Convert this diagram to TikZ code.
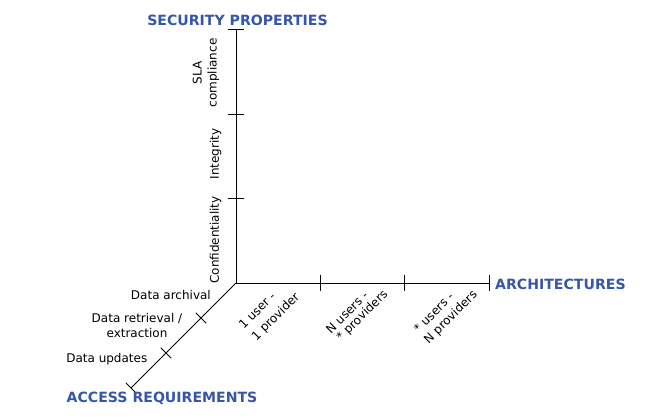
\documentclass[tikz,border=0pt]{standalone}
\usepackage{fontspec}
\setmainfont{DejaVu Sans}
\definecolor{titleblue}{RGB}{54,86,170}
\begin{document}
\begin{tikzpicture}[x=1pt,y=-1pt,
  axis/.style={line width=0.85pt,black},
  tickmark/.style={line width=0.85pt,black},
  lbl/.style={font=\fontsize{12}{15}\selectfont,inner sep=0pt,align=center},
  ttl/.style={font=\fontsize{14.1}{17}\selectfont\bfseries,text=titleblue,inner sep=0pt}]
\useasboundingbox (0,0) rectangle (657,419);
% axes
\coordinate (O) at (236,283);
\coordinate (Ytop) at (236,29);
\coordinate (Xend) at (489,283);
\coordinate (Zend) at (131,388);
\coordinate (Y1) at (236,198);
\coordinate (Y2) at (236,114);
\coordinate (X1) at (320,283);
\coordinate (X2) at (404,283);
\coordinate (Z1) at (201,318);
\coordinate (Z2) at (166,353);
\draw[axis] (Ytop) -- (O) -- (Xend);
\draw[axis] (O) -- (Zend);
% ticks
\foreach \c in {Y1,Y2,Ytop} \draw[tickmark] ([xshift=-8pt]\c) -- ([xshift=8pt]\c);
\foreach \c in {X1,X2,Xend} \draw[tickmark] ([yshift=-8pt]\c) -- ([yshift=8pt]\c);
\foreach \c in {Z1,Z2,Zend} \draw[tickmark] ([shift={(-5.2,-5.2)}]\c) -- ([shift={(5.2,5.2)}]\c);
% titles
\node[ttl] (tsec) at (237.5,20.5) {SECURITY PROPERTIES};
\node[ttl,anchor=west] (tarch) at (495,284.5) {ARCHITECTURES};
\node[ttl,anchor=west] (tacc) at (66.5,398.5) {ACCESS REQUIREMENTS};
% security labels
\node[lbl,rotate=90] (conf) at (215.5,240) {Confidentiality};
\node[lbl,rotate=90] (integ) at (215.5,154) {Integrity};
\node[lbl,rotate=90] (sla) at (206,73) {SLA\\compliance};
% access labels
\node[lbl,anchor=east] (arch) at (211,295) {Data archival};
\node[lbl] (retr) at (137,326) {Data retrieval /\\extraction};
\node[lbl,anchor=east] (upd) at (147.5,359.5) {Data updates};
% architecture labels
\node[lbl,rotate=45] (a1a) at (257,310.5) {1 user -};
\node[lbl,rotate=45] (a1b) at (276,317) {1 provider};
\node[lbl,rotate=45] (a2a) at (347,312.5) {N users -};
\node[lbl,rotate=45] (a2b) at (362.5,316) {* providers};
\node[lbl,rotate=45] (a3a) at (433.5,312.5) {* users -};
\node[lbl,rotate=45] (a3b) at (451,317.5) {N providers};
\end{tikzpicture}
\end{document}
